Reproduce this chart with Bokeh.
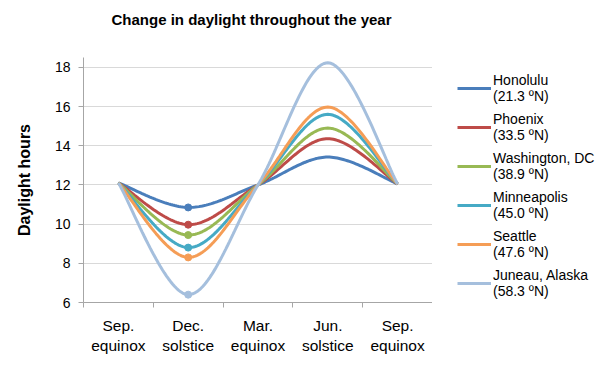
import numpy as np
from bokeh.plotting import figure
from bokeh.layouts import row, column
from bokeh.models import Legend, LegendItem, FixedTicker, Range1d, Label
from bokeh.embed import file_html
from bokeh.resources import INLINE

title_text = "Change in daylight throughout the year"
categories = ["Sep.\nequinox", "Dec.\nsolstice", "Mar.\nequinox", "Jun.\nsolstice", "Sep.\nequinox"]
cities = ["Honolulu\n(21.3 ºN)", "Phoenix\n(33.5 ºN)", "Washington, DC\n(38.9 ºN)",
          "Minneapolis\n(45.0 ºN)", "Seattle\n(47.6 ºN)", "Juneau, Alaska\n(58.3 ºN)"]
honolulu = [12.1, 10.85, 12.0, 13.42, 12.05]
phoenix = [12.1, 9.97, 12.0, 14.36, 12.05]
washington = [12.1, 9.44, 12.0, 14.9, 12.05]
minneapolis = [12.1, 8.8, 12.0, 15.6, 12.05]
seattle = [12.1, 8.3, 12.0, 15.97, 12.05]
juneau = [12.1, 6.4, 12.0, 18.23, 12.05]
series = [honolulu, phoenix, washington, minneapolis, seattle, juneau]
colors = ["#4A7EBB", "#BE4B48", "#98B954", "#46AAC5", "#F59D56", "#A5BFDD"]
y_ticks = [6, 8, 10, 12, 14, 16, 18]
FONT = "Liberation Sans"


def smooth(xs, ys, n=40):
    xs = np.asarray(xs, float)
    ys = np.asarray(ys, float)
    px = np.concatenate([[xs[0]], xs, [xs[-1]]])
    py = np.concatenate([[ys[0]], ys, [ys[-1]]])
    outx, outy = [], []
    for i in range(1, len(px) - 2):
        p0, p1, p2, p3 = (np.array([px[j], py[j]]) for j in (i - 1, i, i + 1, i + 2))
        c1 = p1 + (p2 - p0) / 6.0
        c2 = p2 - (p3 - p1) / 6.0
        t = np.linspace(0, 1, n)[:, None]
        b = ((1 - t) ** 3) * p1 + 3 * ((1 - t) ** 2) * t * c1 + 3 * (1 - t) * t ** 2 * c2 + t ** 3 * p2
        outx.extend(b[:, 0]); outy.extend(b[:, 1])
    return outx, outy


def blank(w, h):
    f = figure(width=w, height=h, output_backend="svg", toolbar_location=None,
               x_range=Range1d(0, 1), y_range=Range1d(0, 1),
               min_border_left=0, min_border_right=0, min_border_top=0, min_border_bottom=0)
    f.axis.visible = False
    f.grid.visible = False
    f.outline_line_color = None
    f.background_fill_color = "white"
    f.border_fill_color = "white"
    return f


TOP = 30
# title strip
tf = blank(606, TOP)
tf.add_layout(Label(x=111, y=TOP - 19, x_units="screen", y_units="screen", text=title_text,
                    text_font=FONT, text_font_size="15px", text_font_style="bold",
                    text_color="#000000", text_baseline="middle", text_align="left"))

p = figure(width=432, height=375 - TOP, output_backend="svg", toolbar_location=None,
           x_range=Range1d(-0.5, 4.5), y_range=Range1d(6, 18.5),
           min_border_left=83, min_border_right=0, min_border_top=57 - TOP, min_border_bottom=73)
p.outline_line_color = None
p.background_fill_color = "white"
p.border_fill_color = "white"

xs = list(range(len(categories)))
for vals, c in zip(series, colors):
    sx, sy = smooth(xs, vals)
    p.line(sx, sy, line_color=c, line_width=3)
    p.scatter([xs[1]], [vals[1]], marker="circle", size=7, fill_color=c, line_color=c)

p.xgrid.grid_line_color = None
p.ygrid.grid_line_color = "#D9D9D9"
p.ygrid.grid_line_width = 1.2
p.ygrid.ticker = FixedTicker(ticks=y_ticks)

p.xaxis.ticker = FixedTicker(ticks=xs, minor_ticks=[x - 0.5 for x in xs] + [4.5])
p.xaxis.major_label_overrides = {i: c for i, c in enumerate(categories)}
p.xaxis.major_tick_line_color = None
p.xaxis.minor_tick_out = 5
p.xaxis.minor_tick_in = 0
p.xaxis.minor_tick_line_color = "#A6A6A6"
p.xaxis.axis_line_color = "#A6A6A6"
p.xaxis.major_label_text_font = FONT
p.xaxis.major_label_text_font_size = "15.5px"
p.xaxis.major_label_text_color = "#000000"
p.xaxis.major_label_standoff = 8

p.yaxis.ticker = FixedTicker(ticks=y_ticks)
p.yaxis.minor_tick_line_color = None
p.yaxis.major_tick_out = 5
p.yaxis.major_tick_in = 0
p.yaxis.major_tick_line_color = "#A6A6A6"
p.yaxis.axis_line_color = "#A6A6A6"
p.yaxis.major_label_text_font = FONT
p.yaxis.major_label_text_font_size = "14px"
p.yaxis.major_label_text_color = "#000000"
p.yaxis.major_label_standoff = 8
p.yaxis.axis_label = "Daylight hours"
p.yaxis.axis_label_text_font = FONT
p.yaxis.axis_label_text_font_size = "16px"
p.yaxis.axis_label_text_font_style = "bold"
p.yaxis.axis_label_text_color = "#000000"
p.yaxis.axis_label_standoff = 19

# legend panel
lg = blank(174, 375 - TOP)
items = []
for name, c in zip(cities, colors):
    r = lg.line([5, 6], [5, 6], line_color=c, line_width=3)
    items.append(LegendItem(label=name, renderers=[r]))

legend = Legend(items=items, location=(25, 3))
legend.label_text_font = FONT
legend.label_text_font_size = "14px"
legend.label_text_color = "#000000"
legend.glyph_width = 34
legend.label_standoff = 2
legend.spacing = 7
legend.padding = 0
legend.margin = 0
legend.border_line_color = None
legend.background_fill_alpha = 0
lg.add_layout(legend)

layout = column(tf, row(p, lg))
open("out.html", "w").write(file_html(layout, INLINE))
